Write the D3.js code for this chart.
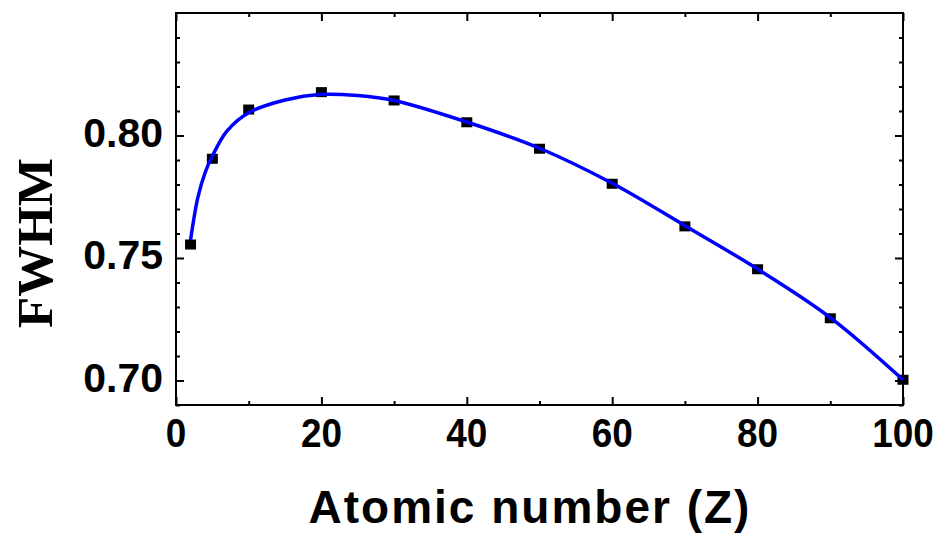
<!DOCTYPE html>
<html>
<head>
<meta charset="utf-8">
<script src="https://cdn.jsdelivr.net/npm/d3@7"></script>
<style>
  body { margin: 0; background: #fff; }
</style>
</head>
<body>
<div id="vis"></div>
<script>
// data
const Z_POINTS = [2, 5, 10, 20, 30, 40, 50, 60, 70, 80, 90, 100];
const FWHM_POINTS = [0.7555, 0.7905, 0.8106, 0.8177, 0.8143, 0.8054, 0.7946, 0.7803, 0.7629, 0.7454, 0.7254, 0.7003];

// fitted curve
const Z_FIT = [2, 3, 4, 5, 7, 10, 15, 20, 25, 30, 40, 50, 60, 70, 80, 90, 100];
const FWHM_FIT = [0.7572, 0.7746, 0.7848, 0.7916, 0.8018, 0.8093, 0.8145, 0.8168, 0.8163, 0.8143, 0.8055, 0.7948, 0.7805, 0.7632, 0.7455, 0.7257, 0.7003];

const X_TICKS = [0, 20, 40, 60, 80, 100];
const X_MINOR = [10, 30, 50, 70, 90];
const Y_TICKS = [0.70, 0.75, 0.80];
const Y_MINOR = [0.69, 0.71, 0.72, 0.73, 0.74, 0.76, 0.77, 0.78, 0.79, 0.81, 0.82, 0.83, 0.84];

// Constants
const FRAME_WIDTH = 941;
const FRAME_HEIGHT = 533;
const MARGINS = { left: 176, right: 38, top: 13, bottom: 128 };
const VIS_WIDTH = FRAME_WIDTH - MARGINS.left - MARGINS.right;
const VIS_HEIGHT = FRAME_HEIGHT - MARGINS.top - MARGINS.bottom;

const FRAME = d3.select("#vis")
    .append("svg")
    .attr("width", FRAME_WIDTH)
    .attr("height", FRAME_HEIGHT)
    .style("background", "#fff");

const X_SCALE = d3.scaleLinear().domain([0, 100]).range([0, VIS_WIDTH]);
const Y_SCALE = d3.scaleLinear().domain([0.69, 0.85]).range([VIS_HEIGHT, 0]);

const g = FRAME.append("g")
    .attr("transform", "translate(" + MARGINS.left + "," + MARGINS.top + ")");

// axes, ticks pointing inward on all four sides
function styleAxis(sel) {
    sel.select(".domain").remove();
    sel.selectAll("line").attr("stroke", "#000").attr("stroke-width", 2);
}

// bottom
g.append("g")
    .attr("transform", "translate(0," + VIS_HEIGHT + ")")
    .call(d3.axisBottom(X_SCALE).tickValues(X_TICKS).tickSize(-8).tickFormat(""))
    .call(styleAxis);
g.append("g")
    .attr("transform", "translate(0," + VIS_HEIGHT + ")")
    .call(d3.axisBottom(X_SCALE).tickValues(X_MINOR).tickSize(-4).tickFormat(""))
    .call(styleAxis);
// top
g.append("g")
    .call(d3.axisTop(X_SCALE).tickValues(X_TICKS).tickSize(-8).tickFormat(""))
    .call(styleAxis);
g.append("g")
    .call(d3.axisTop(X_SCALE).tickValues(X_MINOR).tickSize(-4).tickFormat(""))
    .call(styleAxis);
// left
g.append("g")
    .call(d3.axisLeft(Y_SCALE).tickValues(Y_TICKS).tickSize(-8).tickFormat(""))
    .call(styleAxis);
g.append("g")
    .call(d3.axisLeft(Y_SCALE).tickValues(Y_MINOR).tickSize(-4).tickFormat(""))
    .call(styleAxis);
// right
g.append("g")
    .attr("transform", "translate(" + VIS_WIDTH + ",0)")
    .call(d3.axisRight(Y_SCALE).tickValues(Y_TICKS).tickSize(-8).tickFormat(""))
    .call(styleAxis);
g.append("g")
    .attr("transform", "translate(" + VIS_WIDTH + ",0)")
    .call(d3.axisRight(Y_SCALE).tickValues(Y_MINOR).tickSize(-4).tickFormat(""))
    .call(styleAxis);

// frame
g.append("rect")
    .attr("width", VIS_WIDTH)
    .attr("height", VIS_HEIGHT)
    .attr("fill", "none")
    .attr("stroke", "#000")
    .attr("stroke-width", 2);

// tick labels (x labels a touch narrower, as in the picture)
g.selectAll(".xlab")
    .data(X_TICKS)
    .enter()
    .append("text")
    .attr("transform", (d) => "translate(" + X_SCALE(d) + "," + (VIS_HEIGHT + 42) + ") scale(0.9,1)")
    .attr("text-anchor", "middle")
    .attr("font-family", "'Liberation Sans', Arial, sans-serif")
    .attr("font-weight", "bold")
    .attr("font-size", "41px")
    .text((d) => d);

g.selectAll(".ylab")
    .data(Y_TICKS)
    .enter()
    .append("text")
    .attr("x", -13)
    .attr("y", (d) => Y_SCALE(d))
    .attr("dy", "0.28em")
    .attr("text-anchor", "end")
    .attr("font-family", "'Liberation Sans', Arial, sans-serif")
    .attr("font-weight", "bold")
    .attr("font-size", "41px")
    .text((d) => d.toFixed(2));

// axis titles
FRAME.append("text")
    .attr("x", 530)
    .attr("y", 523)
    .attr("text-anchor", "middle")
    .attr("font-family", "'Liberation Sans', Arial, sans-serif")
    .attr("font-weight", "bold")
    .attr("font-size", "46px")
    .attr("letter-spacing", "2px")
    .text("Atomic number (Z)");

FRAME.append("text")
    .attr("transform", "translate(52,243) rotate(-90)")
    .attr("text-anchor", "middle")
    .attr("font-family", "'Liberation Serif', 'Times New Roman', serif")
    .attr("font-weight", "bold")
    .attr("font-size", "51px")
    .text("FWHM");

// data points (under the line)
const plot = g.append("g");
plot.selectAll(".point")
    .data(Z_POINTS)
    .enter()
    .append("rect")
    .attr("class", "point")
    .attr("x", (d) => X_SCALE(d) - 5.5)
    .attr("y", (d, i) => Y_SCALE(FWHM_POINTS[i]) - 5)
    .attr("width", 11)
    .attr("height", 10)
    .attr("fill", "#000");

// fit line
const line = d3.line()
    .x((d) => X_SCALE(d))
    .y((d, i) => Y_SCALE(FWHM_FIT[i]))
    .curve(d3.curveCatmullRom.alpha(0.5));

plot.append("path")
    .datum(Z_FIT)
    .attr("d", line)
    .attr("fill", "none")
    .attr("stroke", "#0000ff")
    .attr("stroke-width", 3.5);
</script>
</body>
</html>
